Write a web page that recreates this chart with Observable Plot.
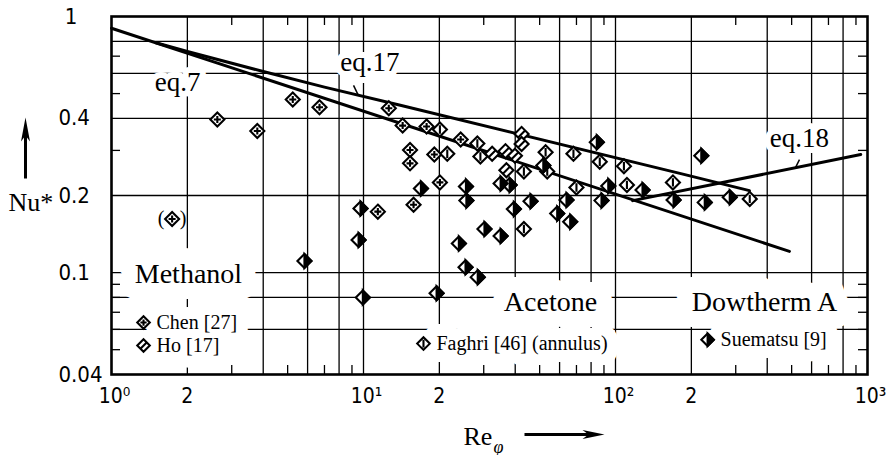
<!DOCTYPE html>
<html>
<head>
<meta charset="utf-8">
<script src="https://cdn.jsdelivr.net/npm/d3@7"></script>
<script src="https://cdn.jsdelivr.net/npm/@observablehq/plot@0.6"></script>
<style>
  html, body { margin: 0; padding: 0; background: #fff; }
</style>
</head>
<body>
<div id="chart"></div>
<script>
// ---------------- data (Re_phi, Nu*) ----------------
// Methanol: Chen [27]
const chenRe = [2.63, 3.79, 5.24, 6.69, 12.6, 11.4, 14.3, 17.8, 24.3, 15.3, 15.3, 19.1, 20.1, 15.8];
const chenNu = [0.396, 0.357, 0.474, 0.442, 0.438, 0.173, 0.375, 0.372, 0.331, 0.301, 0.267, 0.289, 0.225, 0.184];
// Chen point shown in brackets
const chenBracketRe = [1.74];
const chenBracketNu = [0.162];
// Methanol: Ho [17]
const hoRe = [32.4, 36.6, 39.9, 36.9, 42.4, 42.4];
const hoNu = [0.291, 0.298, 0.286, 0.251, 0.348, 0.318];
// Acetone: Faghri [46] (annulus)
const faghriRe = [20.1, 28.3, 29.1, 21.5, 43.3, 52.8, 53.6, 68.1, 86.6, 108, 111, 70.0, 43.3, 169, 341];
const faghriNu = [0.362, 0.319, 0.284, 0.291, 0.248, 0.295, 0.248, 0.291, 0.271, 0.260, 0.220, 0.215, 0.148, 0.225, 0.194];
// Dowtherm A: Suematsu [9]
const sueRe = [9.73, 9.56, 5.83, 9.94, 16.9, 25.5, 25.6, 30.2, 35.0, 23.9, 25.4, 28.4, 19.5, 39.5, 46.0, 35.0, 38.0, 51.7, 63.9, 58.7, 66.1, 84.3, 93.6, 88.0, 128, 170, 219, 226, 284];
const sueNu = [0.178, 0.134, 0.111, 0.080, 0.213, 0.217, 0.191, 0.148, 0.139, 0.130, 0.105, 0.096, 0.083, 0.177, 0.190, 0.223, 0.220, 0.262, 0.192, 0.170, 0.158, 0.323, 0.218, 0.191, 0.210, 0.192, 0.286, 0.188, 0.197];

// correlation curves
const eq7Re = [1, 490];
const eq7Nu = [0.90, 0.121];
const eq17Re = [1.5, 2, 4, 7, 14, 180, 340];
const eq17Nu = [0.79, 0.73, 0.61, 0.53, 0.45, 0.244, 0.209];
const eq18Re = [117, 940];
const eq18Nu = [0.191, 0.289];

// axis ticks
const xTickValues = [1, 2, 4, 10, 20, 40, 100, 200, 400, 1000];
const xTickLabels = ["10⁰", "2", "4", "10¹", "2", "4", "10²", "2", "4", "10³"];
const yTickValues = [1, 0.4, 0.2, 0.1, 0.04];
const yTickLabels = ["\u00a01", "0.4", "0.2", "0.1", "0.04"];
const xGrid = [2, 4, 6, 8, 10, 20, 40, 60, 80, 100, 200, 400, 600, 800];
const yGrid = [0.06, 0.08, 0.1, 0.2, 0.4, 0.6, 0.8];
const xMinor = [3, 5, 7, 9, 30, 50, 70, 90, 300, 500, 700, 900];
const yMinor = [0.05, 0.06, 0.07, 0.08, 0.09, 0.3, 0.5, 0.7];

// annotations (placed in data coordinates)
const eqLabels = ["eq.7", "eq.17", "eq.18"];
const eqLabelRe = [1.83, 10.6, 537];
const eqLabelNu = [0.514, 0.615, 0.3105];
const leaderRe1 = [9.13, 537];
const leaderNu1 = [0.538, 0.276];
const leaderRe2 = [9.55, 518];
const leaderNu2 = [0.491, 0.257];
const groupLabels = ["Methanol", "Acetone", "Dowtherm A"];
const groupRe = [2.02, 55.2, 390];
const groupNu = [0.0914, 0.0711, 0.0711];
const legendNames = ["Chen [27]", "Ho [17]", "Faghri [46] (annulus)", "Suematsu [9]"];
const legendRe = [1.34, 1.34, 17.3, 232];
const legendNu = [0.0638, 0.0519, 0.0528, 0.0547];

// ---------------- helpers ----------------
const pts = (xs, ys) => xs.map((x, i) => ({x, y: ys[i]}));
const xLab = new Map(xTickValues.map((v, i) => [v, xTickLabels[i]]));
const yLab = new Map(yTickValues.map((v, i) => [v, yTickLabels[i]]));

const dia = (c, h) => { c.moveTo(0, -h); c.lineTo(h, 0); c.lineTo(0, h); c.lineTo(-h, 0); c.closePath(); };
const half = s => Math.sqrt(s / 2);
const symChen = {draw(c, s) { const h = half(s); dia(c, h); const k = h * 0.5; c.moveTo(-k, 0); c.lineTo(k, 0); c.moveTo(0, -k); c.lineTo(0, k); }};
const symHo = {draw(c, s) { const h = half(s); dia(c, h); const k = h * 0.5; c.moveTo(-k, k); c.lineTo(k, -k); }};
const symFaghri = {draw(c, s) { const h = half(s); dia(c, h); c.moveTo(0, -h * 0.6); c.lineTo(0, h * 0.6); }};
const symOpen = {draw(c, s) { dia(c, half(s)); }};
const symHalf = {draw(c, s) { const h = half(s); c.moveTo(0, -h); c.lineTo(h, 0); c.lineTo(0, h); c.closePath(); }};
const arrowUp = {draw(c) { const L = 30.5, hl = 24, hw = 4.5, sw = 1.5, n = 4;
  c.moveTo(0, -L); c.lineTo(hw, -L + hl); c.lineTo(sw, -L + hl - n); c.lineTo(sw, L); c.lineTo(-sw, L);
  c.lineTo(-sw, -L + hl - n); c.lineTo(-hw, -L + hl); c.closePath(); }};
const arrowRight = {draw(c) { const L = 40, hl = 22, hw = 4.5, sw = 1.5, n = 4;
  c.moveTo(L, 0); c.lineTo(L - hl, hw); c.lineTo(L - hl + n, sw); c.lineTo(-L, sw); c.lineTo(-L, -sw);
  c.lineTo(L - hl + n, -sw); c.lineTo(L - hl, -hw); c.closePath(); }};

const serif = "'Liberation Serif', 'Times New Roman', serif";
const eqData = eqLabels.map((t, i) => ({t, x: eqLabelRe[i], y: eqLabelNu[i]}));
const groupData = groupLabels.map((t, i) => ({t, x: groupRe[i], y: groupNu[i]}));
const legendData = legendNames.map((t, i) => ({t, x: legendRe[i], y: legendNu[i]}));
const leaders = leaderRe1.map((x1, i) => ({x1, y1: leaderNu1[i], x2: leaderRe2[i], y2: leaderNu2[i]}));
const legendSyms = [symChen, symHo, symFaghri, symOpen];

const dotStyle = {x: "x", y: "y", r: 5.6, stroke: "black", strokeWidth: 2.1, fill: "white"};

const chart = Plot.plot({
  width: 887,
  height: 455,
  marginLeft: 111,
  marginRight: 20,
  marginTop: 16,
  marginBottom: 81,
  x: {type: "log", domain: [1, 1000], label: null},
  y: {type: "log", domain: [0.04, 1], label: null},
  style: {fontFamily: "'DejaVu Sans Condensed', 'DejaVu Sans', sans-serif", fontSize: "22px", background: "white", color: "black"},
  marks: [
    Plot.gridX(xGrid, {stroke: "black", strokeOpacity: 1, strokeWidth: 1.3}),
    Plot.gridY(yGrid, {stroke: "black", strokeOpacity: 1, strokeWidth: 1.3}),
    // white knock-outs behind labels (the grid is interrupted there)
    Plot.text(groupData, {x: "x", y: "y", text: "t", lineAnchor: "bottom", fontFamily: serif, fontSize: 28, fill: "white", stroke: "white", strokeWidth: 32}),
    Plot.text(legendData, {x: "x", y: "y", text: "t", dx: 13, textAnchor: "start", fontFamily: serif, fontSize: 20, fill: "white", stroke: "white", strokeWidth: 24}),
    Plot.text(eqData, {x: "x", y: "y", text: "t", lineAnchor: "bottom", fontFamily: serif, fontSize: 27, fill: "white", stroke: "white", strokeWidth: 12}),
    // inward minor ticks
    Plot.tickX(xMinor, {x: d => d, insetTop: 349, stroke: "black", strokeWidth: 1.3}),
    Plot.tickX(xMinor, {x: d => d, insetBottom: 349, stroke: "black", strokeWidth: 1.3}),
    Plot.tickY(yMinor, {y: d => d, insetRight: 747, stroke: "black", strokeWidth: 1.3}),
    Plot.tickY(yMinor, {y: d => d, insetLeft: 747, stroke: "black", strokeWidth: 1.3}),
    Plot.frame({stroke: "black", strokeWidth: 2.6}),
    // tick labels
    Plot.axisX(xTickValues.filter(v => !xLab.get(v).startsWith("10")), {tickSize: 0, tickPadding: 14, fontSize: 21, tickFormat: v => xLab.get(v)}),
    Plot.axisX(xTickValues.filter(v => xLab.get(v).startsWith("10")), {tickSize: 0, tickPadding: 14, fontSize: 21, dx: 3, tickFormat: v => xLab.get(v)}),
    Plot.axisY(yTickValues, {tickSize: 0, tickPadding: 0, textAnchor: "start", dx: -53, tickFormat: v => yLab.get(v)}),
    // labels
    Plot.text(groupData, {x: "x", y: "y", text: "t", lineAnchor: "bottom", fontFamily: serif, fontSize: 28, fill: "black"}),
    Plot.text(legendData, {x: "x", y: "y", text: "t", dx: 13, textAnchor: "start", fontFamily: serif, fontSize: 20, fill: "black"}),
    Plot.text(eqData, {x: "x", y: "y", text: "t", lineAnchor: "bottom", fontFamily: serif, fontSize: 27, fill: "black"}),
    Plot.link(leaders, {x1: "x1", y1: "y1", x2: "x2", y2: "y2", stroke: "black", strokeWidth: 1.5}),
    // correlations
    Plot.line(pts(eq7Re, eq7Nu), {x: "x", y: "y", stroke: "black", strokeWidth: 3}),
    Plot.line(pts(eq17Re, eq17Nu), {x: "x", y: "y", stroke: "black", strokeWidth: 3}),
    Plot.line(pts(eq18Re, eq18Nu), {x: "x", y: "y", stroke: "black", strokeWidth: 3}),
    // data
    Plot.dot(pts(chenRe, chenNu), {...dotStyle, symbol: symChen}),
    Plot.dot(pts(chenBracketRe, chenBracketNu), {...dotStyle, symbol: symChen}),
    Plot.text(pts(chenBracketRe, chenBracketNu), {x: "x", y: "y", text: () => "(", dx: -11, fontFamily: serif, fontSize: 20}),
    Plot.text(pts(chenBracketRe, chenBracketNu), {x: "x", y: "y", text: () => ")", dx: 11, fontFamily: serif, fontSize: 20}),
    Plot.dot(pts(hoRe, hoNu), {...dotStyle, symbol: symHo}),
    Plot.dot(pts(faghriRe, faghriNu), {...dotStyle, symbol: symFaghri}),
    Plot.dot(pts(sueRe, sueNu), {...dotStyle, symbol: symOpen}),
    Plot.dot(pts(sueRe, sueNu), {...dotStyle, symbol: symHalf, fill: "black"}),
    // legend markers
    ...legendSyms.map((s, i) => Plot.dot([legendData[i]], {...dotStyle, r: 5, symbol: s})),
    Plot.dot([legendData[3]], {...dotStyle, r: 5, symbol: symHalf, fill: "black"}),
    // axis titles with arrows
    Plot.text(["Nu*"], {frameAnchor: "left", textAnchor: "start", lineAnchor: "bottom", dx: -103, dy: 15, fontFamily: serif, fontSize: 26}),
    Plot.dot([0], {frameAnchor: "left", dx: -86, dy: -47.5, symbol: arrowUp, fill: "black", stroke: "none"}),
    Plot.text(["Re"], {frameAnchor: "bottom", textAnchor: "start", lineAnchor: "bottom", dx: -26, dy: 70, fontFamily: serif, fontSize: 26}),
    Plot.text(["φ"], {frameAnchor: "bottom", textAnchor: "start", lineAnchor: "bottom", dx: 4, dy: 78, fontFamily: serif, fontSize: 18, fontStyle: "italic"}),
    Plot.dot([0], {frameAnchor: "bottom", dx: 75, dy: 60, symbol: arrowRight, fill: "black", stroke: "none"})
  ]
});
document.getElementById("chart").append(chart);
</script>
</body>
</html>
